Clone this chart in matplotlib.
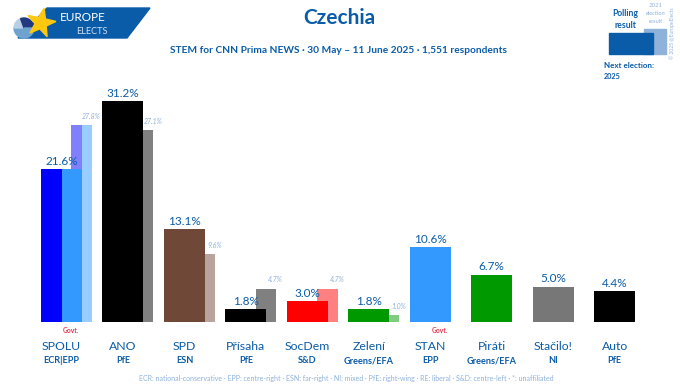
import numpy as np
import matplotlib
matplotlib.use("Agg")
import matplotlib.pyplot as plt
from matplotlib.patches import Polygon, Rectangle, Wedge

plt.rcParams['font.family'] = ['Lato', 'DejaVu Sans']

parties = ["SPOLU", "ANO", "SPD", "Přísaha", "SocDem", "Zelení", "STAN", "Piráti", "Stačilo!", "Auto"]
groups = ["ECR|EPP", "PfE", "ESN", "PfE", "S&D", "Greens/EFA", "EPP", "Greens/EFA", "NI", "PfE"]
poll = [21.6, 31.2, 13.1, 1.8, 3.0, 1.8, 10.6, 6.7, 5.0, 4.4]
last_election = [27.8, 27.1, 9.6, 4.7, 4.7, 1.0, None, None, None, None]
poll_colors = ["#0000ff", "#000000", "#704838", "#000000", "#ff0000", "#009900", "#3399ff", "#009900", "#777777", "#000000"]
prev_colors = ["#8080ff", "#808080", "#b8a49c", "#808080", "#ff8080", "#80cc80", None, None, None, None]
govt = ["SPOLU", "STAN"]

footer = "ECR: national-conservative · EPP: centre-right · ESN: far-right · NI: mixed · PfE: right-wing · RE: liberal · S&D: centre-left · *: unaffiliated"

BLUE = "#0b5ca8"
PALE = "#8fb2da"

fig = plt.figure(figsize=(6.8, 3.92), dpi=100)
ax = fig.add_axes([0, 0, 1, 1])
step = 61.47
ax.set_xlim((0 - 61.5) / step, (680 - 61.5) / step)
ax.set_ylim(-70 / 7.08, 322 / 7.08)
ax.axis("off")

# pixel coords for the non data stuff
px = fig.add_axes([0, 0, 1, 1], zorder=5)
px.set_xlim(0, 680)
px.set_ylim(392, 0)
px.axis("off")
px.patch.set_alpha(0)

x = np.arange(len(parties))
w = 41 / step
pw = 20.5 / step
off = 20 / step

for i in x:
    if last_election[i] is not None:
        ax.bar(i + off, last_election[i], pw, color=prev_colors[i], zorder=1)
        ax.text(i + off + 0.16, last_election[i] + 0.75, "%.1f%%" % last_election[i], ha="center", va="bottom",
                fontsize=5, style="italic", color=PALE)
    ax.bar(i, poll[i], w, color=poll_colors[i], zorder=2)
    ax.text(i, poll[i] + 0.3, "%.1f%%" % poll[i], ha="center", va="bottom", fontsize=8.5,
            color=BLUE, zorder=4)

# SPOLU is a joint list, right half of its bars is lighter
ax.bar(0 + w / 4, poll[0], w / 2, color="#3399ff", zorder=3)
ax.bar(0 + off + pw / 4, last_election[0], pw / 2, color="#99ccff", zorder=1.5)

for i, name in enumerate(parties):
    ax.text(i, -3.4, name, ha="center", va="center", fontsize=8.8, color=BLUE)
    ax.text(i, -5.5, groups[i], ha="center", va="center", fontsize=6.6, color=BLUE, fontweight="bold")
    if name in govt:
        ax.text(i + 0.15, -1.15, "Govt.", ha="center", va="center", fontsize=4.8, color="#e8334a", fontweight="bold")

px.text(339, 18, "Czechia", ha="center", va="center", fontsize=15, fontweight="bold", color=BLUE)
px.text(339, 50, "STEM for CNN Prima NEWS · 30 May – 11 June 2025 · 1,551 respondents", ha="center", va="center",
        fontsize=7.3, fontweight="bold", color=BLUE)
px.text(346, 379, footer, ha="center", va="center", fontsize=5, color=PALE)

# logo
px.add_patch(Polygon([[47, 8], [150, 8], [127, 38], [18, 38]], color="#0b5ca8", zorder=1))
px.add_patch(Wedge((24, 28), 10, 90, 180, color="#6ea3d0", zorder=2))
px.add_patch(Wedge((24, 28), 10, 180, 250, color="#b9cfe6", zorder=2))
px.add_patch(Wedge((24, 28), 10, 250, 360, color="#23397f", zorder=2))
px.add_patch(Wedge((24, 28), 10, 0, 90, color="#6ea3d0", zorder=2))
star = []
for k in range(10):
    r = 15 if k % 2 == 0 else 6
    a = np.radians(-90 + 36 * k + 12)
    star.append([41 + r * np.cos(a), 23 + r * np.sin(a)])
px.add_patch(Polygon(star, color="#fdc80f", zorder=3))
px.text(83, 17, "EUROPE", ha="center", va="center", fontsize=8.5, color="white")
px.text(92, 31, "ELECTS", ha="center", va="center", fontsize=6.6, color="#cfe0f2")

# key, top right
px.add_patch(Rectangle((644, 29), 22, 25, color="#8fb2da", zorder=1))
px.add_patch(Rectangle((609, 33), 44, 21, color="#0b5ca8", zorder=2))
px.text(625, 13, "Polling", ha="center", va="center", fontsize=6.2, fontweight="bold", color=BLUE)
px.text(625, 25, "result", ha="center", va="center", fontsize=6.2, fontweight="bold", color=BLUE)
px.text(656, 5, "2021", ha="center", va="center", fontsize=4.4, style="italic", color=PALE)
px.text(656, 13, "election", ha="center", va="center", fontsize=4.4, style="italic", color=PALE)
px.text(656, 21, "result", ha="center", va="center", fontsize=4.4, style="italic", color=PALE)
px.text(604, 65, "Next election:", ha="left", va="center", fontsize=5.8, fontweight="bold", color=BLUE)
px.text(604, 76, "2025", ha="left", va="center", fontsize=5.2, fontweight="bold", color=BLUE)
px.text(672, 33, "© 2025 @EuropeElects", ha="center", va="center", rotation=90, fontsize=3.6, color=PALE)

fig.savefig("out.png", dpi=100)
